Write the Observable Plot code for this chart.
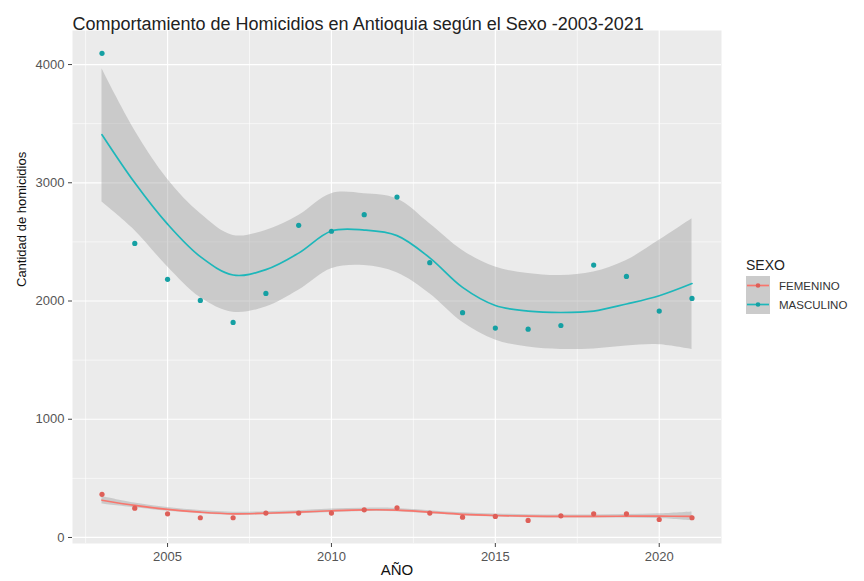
<!DOCTYPE html>
<html><head><meta charset="utf-8">
<script src="https://cdn.jsdelivr.net/npm/d3@7"></script>
<script src="https://cdn.jsdelivr.net/npm/@observablehq/plot@0.6"></script>
<style>
body{margin:0;background:#fff;font-family:"Liberation Sans",Arial,sans-serif;}
#wrap{position:relative;width:864px;height:581px;overflow:hidden;}
#chart{position:absolute;left:0;top:0;}
#legend{position:absolute;left:746px;top:256px;}
#legend .ttl{font-size:14px;color:#222;height:20px;line-height:18px;}
#legend .row{display:flex;align-items:center;height:19px;}
#legend .row span{font-size:11.5px;color:#333;margin-left:9px;}
</style></head><body>
<div id="wrap"><div id="chart"></div><div id="legend"></div></div>
<script>
const years = [2003,2004,2005,2006,2007,2008,2009,2010,2011,2012,2013,2014,2015,2016,2017,2018,2019,2020,2021];
const sexes = ["FEMENINO","MASCULINO"];
const lineColors = ["#F8766D","#1DB7BA"];
const dotColors = ["#DE5F58","#15A0A3"];

// observed counts
const mascPoints = [4095,2487,2183,2005,1819,2064,2640,2590,2730,2879,2324,1901,1771,1762,1793,2304,2208,1915,2022];
const femPoints  = [365,248,200,167,167,206,206,206,234,251,206,172,178,144,183,200,200,152,167];

// loess fit and confidence band
const mascFit = [3407,3000,2650,2375,2220,2265,2405,2592,2600,2553,2365,2115,1962,1915,1903,1915,1975,2045,2148];
const mascHi  = [3964,3443,3030,2740,2555,2597,2724,2908,2908,2865,2654,2428,2287,2233,2216,2245,2343,2513,2696];
const mascLo  = [2837,2597,2290,2030,1905,1949,2090,2273,2300,2240,2062,1820,1670,1610,1590,1595,1620,1630,1590];
const femFit  = [315,271,237,214,200,205,214,226,234,232,214,196,186,180,178,178,180,180,178];
const femHi   = [347,291,253,228,213,218,227,240,248,246,227,209,199,193,191,191,195,200,216];
const femLo   = [283,251,221,200,187,192,201,212,220,218,201,183,173,167,165,165,165,160,140];

const rows = [];
years.forEach((yr,i)=>{
  rows.push({year:yr, sexo:sexes[0], n:femPoints[i], fit:femFit[i], lo:femLo[i], hi:femHi[i]});
  rows.push({year:yr, sexo:sexes[1], n:mascPoints[i], fit:mascFit[i], lo:mascLo[i], hi:mascHi[i]});
});

const xMajor = [2005,2010,2015,2020];
const xMinor = [2002.5,2007.5,2012.5,2017.5];
const yMajor = [0,1000,2000,3000,4000];
const yMinor = [500,1500,2500,3500];

const chart = Plot.plot({
  width:864, height:581,
  marginLeft:72, marginRight:143, marginTop:30, marginBottom:38,
  x:{domain:[2002.1,2021.9]},
  y:{domain:[-51,4288]},
  color:{domain:sexes, range:lineColors},
  style:{fontFamily:"Liberation Sans, Arial, sans-serif", fontSize:"13px", color:"#555", background:"transparent", overflow:"visible"},
  marks:[
    Plot.frame({fill:"#EBEBEB", stroke:null}),
    Plot.ruleY(yMinor,{stroke:"#fff", strokeWidth:0.6}),
    Plot.ruleX(xMinor,{stroke:"#fff", strokeWidth:0.6}),
    Plot.ruleY(yMajor,{stroke:"#fff", strokeWidth:1.2}),
    Plot.ruleX(xMajor,{stroke:"#fff", strokeWidth:1.2}),
    Plot.areaY(rows,{x:"year", y1:"lo", y2:"hi", z:"sexo", fill:"#999", fillOpacity:0.4, curve:"catmull-rom"}),
    Plot.line(rows,{x:"year", y:"fit", z:"sexo", stroke:"sexo", strokeWidth:1.7, curve:"catmull-rom"}),
    Plot.dot(rows,{x:"year", y:"n", fill:d=>dotColors[sexes.indexOf(d.sexo)], r:2.6, stroke:null}),
    Plot.axisX({ticks:xMajor, tickFormat:d=>String(d), tickSize:4, tickPadding:4, label:null, stroke:"#444"}),
    Plot.axisY({ticks:yMajor, tickFormat:d=>String(d), tickSize:4, tickPadding:4, label:null, stroke:"#444"}),
    Plot.text(["AÑO"],{frameAnchor:"bottom", dy:31, fontSize:15, fill:"#111"}),
    Plot.text(["Cantidad de homicidios"],{frameAnchor:"left", dx:-51, rotate:-90, fontSize:13, fill:"#111"}),
    Plot.text(["Comportamiento de Homicidios en Antioquia según el Sexo -2003-2021"],{frameAnchor:"top-left", textAnchor:"start", dy:-13, fontSize:18, fill:"#222"})
  ]
});
document.getElementById("chart").appendChild(chart);

const lg = document.getElementById("legend");
let html = '<div class="ttl">SEXO</div>';
sexes.forEach((s,i)=>{
  html += '<div class="row"><svg width="24" height="19"><rect x="0" y="0" width="24" height="19" fill="#CBCBCB"/>'+
    '<line x1="1" x2="23" y1="9.5" y2="9.5" stroke="'+lineColors[i]+'" stroke-width="1.7"/>'+
    '<circle cx="12" cy="9.5" r="2.3" fill="'+dotColors[i]+'"/></svg><span>'+s+'</span></div>';
});
lg.innerHTML = html;
</script>
</body></html>
